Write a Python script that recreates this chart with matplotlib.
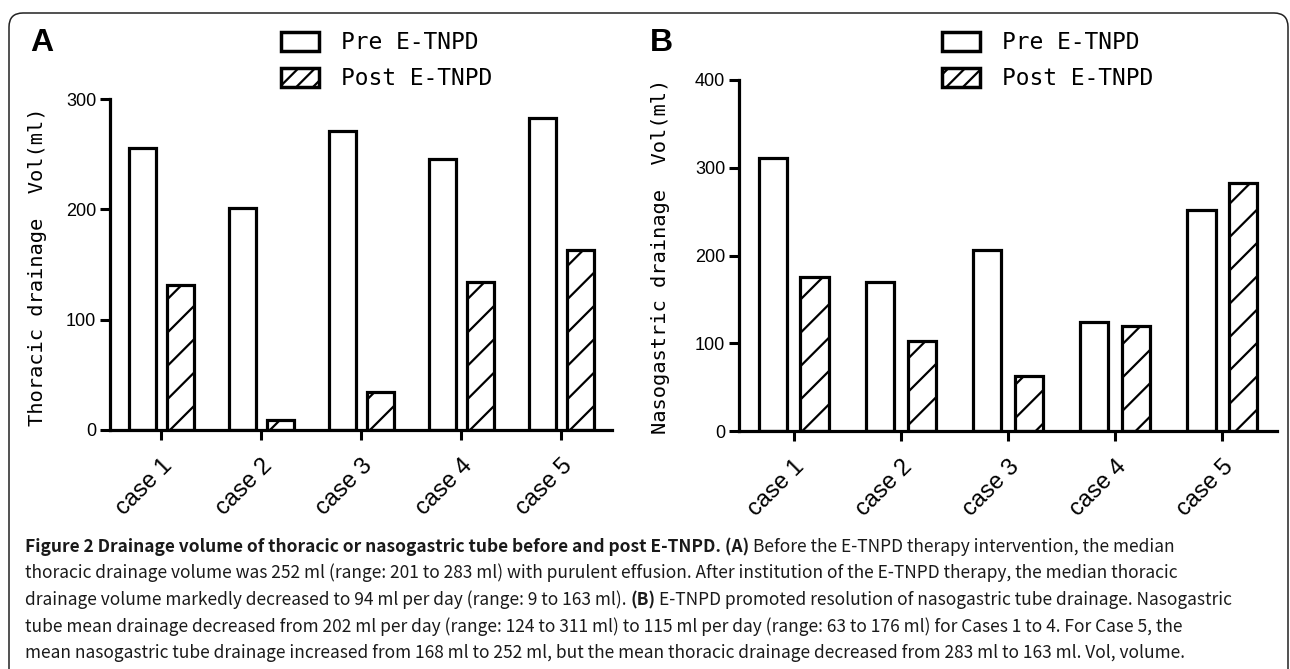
import numpy as np
import matplotlib
matplotlib.use("Agg")
import matplotlib.pyplot as plt
from matplotlib.patches import FancyBboxPatch, Patch
from matplotlib.transforms import IdentityTransform

# data
cases = ["case 1", "case 2", "case 3", "case 4", "case 5"]
thoracic_pre = [256, 201, 271, 246, 283]
thoracic_post = [131, 9, 34, 134, 163]
naso_pre = [311, 170, 206, 124, 252]
naso_post = [176, 103, 63, 120, 283]
legend_labels = ["Pre E-TNPD", "Post E-TNPD"]

caption_lines = [
    [("Figure 2 Drainage volume of thoracic or nasogastric tube before and post E-TNPD. (A)", "bold"),
     ("Before the E-TNPD therapy intervention, the median", "normal")],
    [("thoracic drainage volume was 252 ml (range: 201 to 283 ml) with purulent effusion. After institution of the E-TNPD therapy, the median thoracic", "normal")],
    [("drainage volume markedly decreased to 94 ml per day (range: 9 to 163 ml).", "normal"),
     ("(B)", "bold"),
     ("E-TNPD promoted resolution of nasogastric tube drainage. Nasogastric", "normal")],
    [("tube mean drainage decreased from 202 ml per day (range: 124 to 311 ml) to 115 ml per day (range: 63 to 176 ml) for Cases 1 to 4. For Case 5, the", "normal")],
    [("mean nasogastric tube drainage increased from 168 ml to 252 ml, but the mean thoracic drainage decreased from 283 ml to 163 ml. Vol, volume.", "normal")],
]
caption_ends = [1268, 1185, 1270, 1240, 1188]

W, H = 1290, 669
MONO = "DejaVu Sans Mono"
SANS = "Liberation Sans"
CAP = ["Noto Sans CJK SC", "Lato"]

plt.rcParams["hatch.linewidth"] = 1.6
fig = plt.figure(figsize=(W / 100, H / 100), dpi=100)


def px_rect(left, right, top, bottom):
    return [left / W, 1 - bottom / H, (right - left) / W, (bottom - top) / H]


def panel(rect, pre, post, ymax, width, off, ylabel, ylab_x, ylab_y, letter, letter_x, leg_x):
    ax = fig.add_axes(rect)
    x = np.arange(len(cases))
    ax.bar(x - off, pre, width, facecolor="white", edgecolor="black", linewidth=2.3)
    ax.bar(x + off, post, width, facecolor="white", edgecolor="black", linewidth=2.3, hatch="/")
    ax.set_xlim(-0.51, len(cases) - 0.49)
    ax.set_ylim(0, ymax)
    ax.set_yticks(np.arange(0, ymax + 1, 100))
    ax.set_xticks(x, cases, rotation=45, ha="right", rotation_mode="anchor",
                  fontsize=17, family=SANS)
    for lab in ax.get_yticklabels():
        lab.set_fontsize(13)
        lab.set_family(SANS)
    ax.tick_params(axis="y", length=7, width=2.2, pad=3)
    ax.tick_params(axis="x", length=7.5, width=2.2, pad=10)
    for s in ["top", "right"]:
        ax.spines[s].set_visible(False)
    for s in ["left", "bottom"]:
        ax.spines[s].set_linewidth(2.3)

    fig.text(ylab_x / W, 1 - ylab_y / H, ylabel, rotation=90, ha="center", va="center",
             family=MONO, fontsize=14.7)
    fig.text(letter_x / W, 1 - 51 / H, letter, ha="left", va="baseline",
             family=SANS, fontweight="bold", fontsize=23)

    handles = [Patch(facecolor="white", edgecolor="black", linewidth=2.5),
               Patch(facecolor="white", edgecolor="black", linewidth=2.5, hatch="//")]
    ax.legend(handles, legend_labels, loc="upper left",
              bbox_to_anchor=(leg_x / W, 1 - 31 / H), bbox_transform=fig.transFigure,
              frameon=False, prop={"family": MONO, "size": 16.5},
              handlelength=1.65, handleheight=0.91, handletextpad=0.95,
              labelspacing=0.57, borderpad=0, borderaxespad=0)
    return ax


panel(px_rect(110, 612, 99, 430), thoracic_pre, thoracic_post, 300, 0.27, 0.19,
      "Thoracic drainage  Vol(ml)", 38, 267, "A", 30, 281)
panel(px_rect(739, 1277, 80, 431), naso_pre, naso_post, 400, 0.265, 0.195,
      "Nasogastric drainage  Vol(ml)", 660, 256, "B", 650, 942)

# rounded frame round the whole figure
frame = FancyBboxPatch((9, -40), 1279, H - 13 + 40, boxstyle="round,pad=0,rounding_size=14",
                       transform=IdentityTransform(), facecolor="none",
                       edgecolor="#222222", linewidth=1.1)
fig.patches.append(frame)

# caption, with bold parts placed next to normal ones
renderer = fig.canvas.get_renderer()


def width_of(s, size, weight):
    t = fig.text(0, 0, s, family=CAP, fontsize=size, fontweight=weight)
    w = t.get_window_extent(renderer).width
    t.remove()
    return w


def line_width(segs, size):
    sp = width_of("n n", size, "normal") - width_of("nn", size, "normal")
    return sum(width_of(s, size, wt) for s, wt in segs) + sp * (len(segs) - 1)


# one size for all lines, the largest that keeps every line inside its width
cap_size = min(10 * (end - 25) / line_width(segs, 10)
               for segs, end in zip(caption_lines, caption_ends))
space = width_of("n n", cap_size, "normal") - width_of("nn", cap_size, "normal")
line_y = [547, 573, 600, 627, 653]
for segs, yc in zip(caption_lines, line_y):
    xpos = 25
    for s, wt in segs:
        fig.text(xpos / W, 1 - yc / H, s, family=CAP, fontsize=cap_size, fontweight=wt,
                 ha="left", va="center", color="#1a1a1a")
        xpos += width_of(s, cap_size, wt) + space

fig.savefig("out.png", dpi=100)
